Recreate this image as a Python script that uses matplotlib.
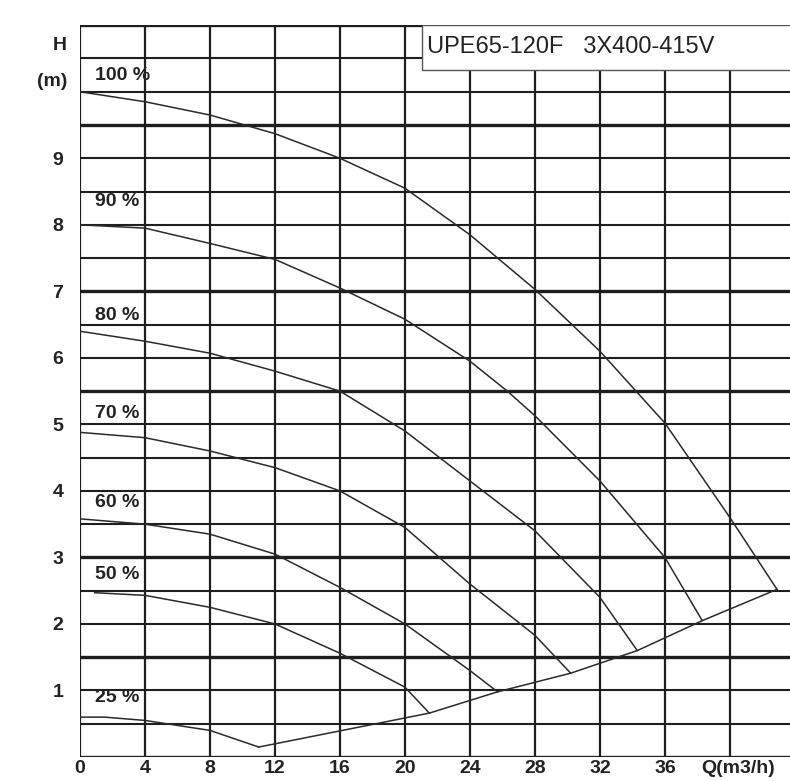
import numpy as np
import matplotlib
matplotlib.use("Agg")
import matplotlib.pyplot as plt
from matplotlib.patches import Rectangle

plt.rcParams['font.family'] = ['Liberation Sans', 'DejaVu Sans']

# pump curves, flow Q (m3/h) vs head H (m), one per speed setting
q_100 = [0, 4, 8, 12, 16, 20, 24, 28, 32, 36, 40, 42.9]
h_100 = [10.0, 9.85, 9.65, 9.37, 9.0, 8.55, 7.85, 7.03, 6.1, 5.02, 3.6, 2.52]
q_90 = [0, 4, 8, 12, 16, 20, 24, 26.3, 28, 32, 36, 38.3]
h_90 = [8.0, 7.95, 7.72, 7.48, 7.05, 6.58, 5.95, 5.5, 5.13, 4.15, 3.0, 2.05]
q_80 = [0, 4, 8, 12, 16, 20, 24, 28, 32, 34.3]
h_80 = [6.4, 6.25, 6.07, 5.8, 5.5, 4.9, 4.15, 3.4, 2.4, 1.6]
q_70 = [0, 4, 8, 12, 16, 20, 24, 28, 30.2]
h_70 = [4.88, 4.8, 4.6, 4.35, 4.0, 3.45, 2.6, 1.83, 1.26]
q_60 = [0, 4, 8, 12, 16, 20, 24, 25.7]
h_60 = [3.58, 3.5, 3.35, 3.05, 2.55, 2.0, 1.3, 0.98]
q_50 = [0.9, 4, 8, 12, 16, 20, 21.5]
h_50 = [2.47, 2.43, 2.25, 2.0, 1.56, 1.05, 0.66]
q_25 = [0, 1.5, 4, 8, 11.0]
h_25 = [0.6, 0.6, 0.55, 0.4, 0.15]
# lower limit line through the curve end points
q_min = [11.0, 21.5, 25.7, 30.2, 34.3, 38.3, 42.9]
h_min = [0.15, 0.66, 0.98, 1.26, 1.6, 2.05, 2.52]

curve_labels = ['100 %', '90 %', '80 %', '70 %', '60 %', '50 %', '25 %']
label_h = [10.25, 8.35, 6.64, 5.16, 3.82, 2.74, 0.9]

x_ticks = [0, 4, 8, 12, 16, 20, 24, 28, 32, 36]
y_ticks = [1, 2, 3, 4, 5, 6, 7, 8, 9]
title = 'UPE65-120F   3X400-415V'

txt = dict(fontsize=14, fontweight='bold', color='#222')

fig = plt.figure(figsize=(7.9, 7.81), dpi=100)
ax = fig.add_axes([0.1013, 0.0307, 0.8987, 0.937])
ax.set_xlim(0, 43.7)
ax.set_ylim(0, 11)

grid_col = '#1e1e1e'
for q in np.arange(0, 44, 4):
    ax.axvline(q, color=grid_col, lw=1.6, zorder=1)
thick = {11.0, 9.5, 7.0, 5.5, 3.0, 1.5, 0.0}
for h in np.arange(0, 11.01, 0.5):
    ax.axhline(h, color=grid_col, lw=2.4 if round(h, 1) in thick else 1.5, zorder=1)

for q, h in [(q_100, h_100), (q_90, h_90), (q_80, h_80), (q_70, h_70),
             (q_60, h_60), (q_50, h_50), (q_25, h_25), (q_min, h_min)]:
    ax.plot(q, h, color='#2a2a2a', lw=1.1, zorder=3)

for lab, h in zip(curve_labels, label_h):
    ax.text(0.9, h, lab, va='center', ha='left', zorder=4, **txt)

# model box in the top right corner
ax.add_patch(Rectangle((21.05, 10.33), 30, 0.67, facecolor='white',
                       edgecolor='#555', lw=1.0, zorder=5))
ax.text(21.35, 10.68, title, fontsize=17, color='#222', va='center',
        ha='left', zorder=6)

for s in ax.spines.values():
    s.set_visible(False)
ax.set_xticks(x_ticks)
ax.set_xticklabels([str(v) for v in x_ticks], **txt)
ax.set_yticks(y_ticks)
ax.set_yticklabels([str(v) for v in y_ticks], **txt)
ax.tick_params(axis='y', length=0, pad=12)
ax.tick_params(axis='x', length=0, pad=2)
ax.text(40.5, -0.05, 'Q(m3/h)', ha='center', va='top', clip_on=False, **txt)
ax.text(-0.8, 10.7, 'H', ha='right', va='center', clip_on=False, **txt)
ax.text(-0.8, 10.15, '(m)', ha='right', va='center', clip_on=False, **txt)

fig.savefig('out.png', dpi=100)
